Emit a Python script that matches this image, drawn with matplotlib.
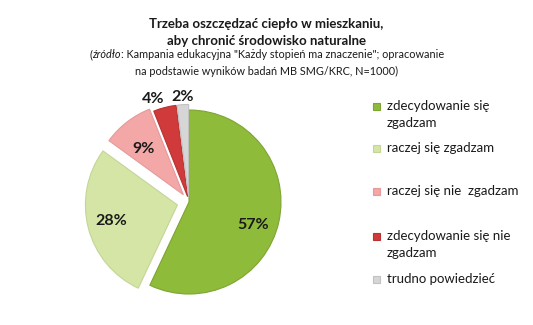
import numpy as np
import matplotlib.pyplot as plt
from matplotlib.patches import Rectangle

plt.rcParams['font.family'] = ['Lato', 'DejaVu Sans']

labels = ['zdecydowanie się\nzgadzam', 'raczej się zgadzam', 'raczej się nie  zgadzam',
          'zdecydowanie się nie\nzgadzam', 'trudno powiedzieć']
values = [57, 28, 9, 4, 2]
colors = ['#8fbb3b', '#d5e5a6', '#f4a7a7', '#d03a3a', '#d6d6d6']
edges = ['#7ea431', '#c4d596', '#e59a9a', '#b83232', '#c2c2c2']
explode = [0.0, 0.13, 0.1, 0.06, 0.06]
label_dist = [0.74, 0.74, 0.66, 1.12, 1.08]
label_turn = [-7, -1, 3, 5, 0]  # degrees, nudges label off the mid angle

W, H = 533, 325
fig = plt.figure(figsize=(W / 100, H / 100), dpi=100)

# pie axes: centre at (189, 202) px, radius 1 == 92 px
cx, cy, half, rpx = 189, 202, 125, 92
ax = fig.add_axes([(cx - half) / W, (H - cy - half) / H, 2 * half / W, 2 * half / H])
lim = half / rpx
wedges, _ = ax.pie(values, colors=colors, explode=explode, startangle=90,
                   counterclock=False, radius=1.0)
for w, e in zip(wedges, edges):
    w.set_edgecolor(e)
    w.set_linewidth(0.8)
ax.set_xlim(-lim, lim)
ax.set_ylim(-lim, lim)
ax.set_aspect('auto')
ax.axis('off')

for w, v, d, t in zip(wedges, values, label_dist, label_turn):
    ang = np.deg2rad((w.theta1 + w.theta2) / 2 + t)
    x0, y0 = w.center
    ax.text(x0 + d * np.cos(ang), y0 + d * np.sin(ang), f'{v}%',
            ha='center', va='center', fontsize=11.5, fontweight='bold', color='#1a1a1a')

# title
fig.text(0.5, 1 - 24 / H, 'Trzeba oszczędzać ciepło w mieszkaniu,', ha='center', va='center',
         fontsize=9.5, fontweight='bold', color='#1a1a1a')
fig.text(0.5, 1 - 41 / H, 'aby chronić środowisko naturalne', ha='center', va='center',
         fontsize=9.5, fontweight='bold', color='#1a1a1a')

# subtitle with italic part
renderer = fig.canvas.get_renderer()
parts = [('(', 'normal'), ('źródło', 'italic'),
         (': Kampania edukacyjna "Każdy stopień ma znaczenie"; opracowanie', 'normal')]
ys = 1 - 58 / H
txts = [fig.text(0, ys, s, ha='left', va='baseline', fontsize=7.8, style=st, color='#1a1a1a')
        for s, st in parts]
widths = [t.get_window_extent(renderer).width for t in txts]
x = (W - sum(widths)) / 2
for t, wd in zip(txts, widths):
    t.set_x(x / W)
    x += wd
fig.text(0.5, 1 - 75 / H, 'na podstawie wyników badań MB SMG/KRC, N=1000)', ha='center',
         va='baseline', fontsize=7.8, color='#1a1a1a')

# legend
leg_y = [106, 148, 191, 236, 279]
for lab, c, e, yy in zip(labels, colors, edges, leg_y):
    fig.patches.append(Rectangle((373 / W, 1 - (yy + 3.5) / H), 7 / W, 7 / H,
                                 transform=fig.transFigure, facecolor=c, edgecolor=e,
                                 linewidth=0.8))
    for i, line in enumerate(lab.split('\n')):
        fig.text(387 / W, 1 - (yy + 17 * i) / H, line, ha='left', va='center',
                 fontsize=9.5, color='#1a1a1a')

fig.savefig('out.png', dpi=100, facecolor='white')
